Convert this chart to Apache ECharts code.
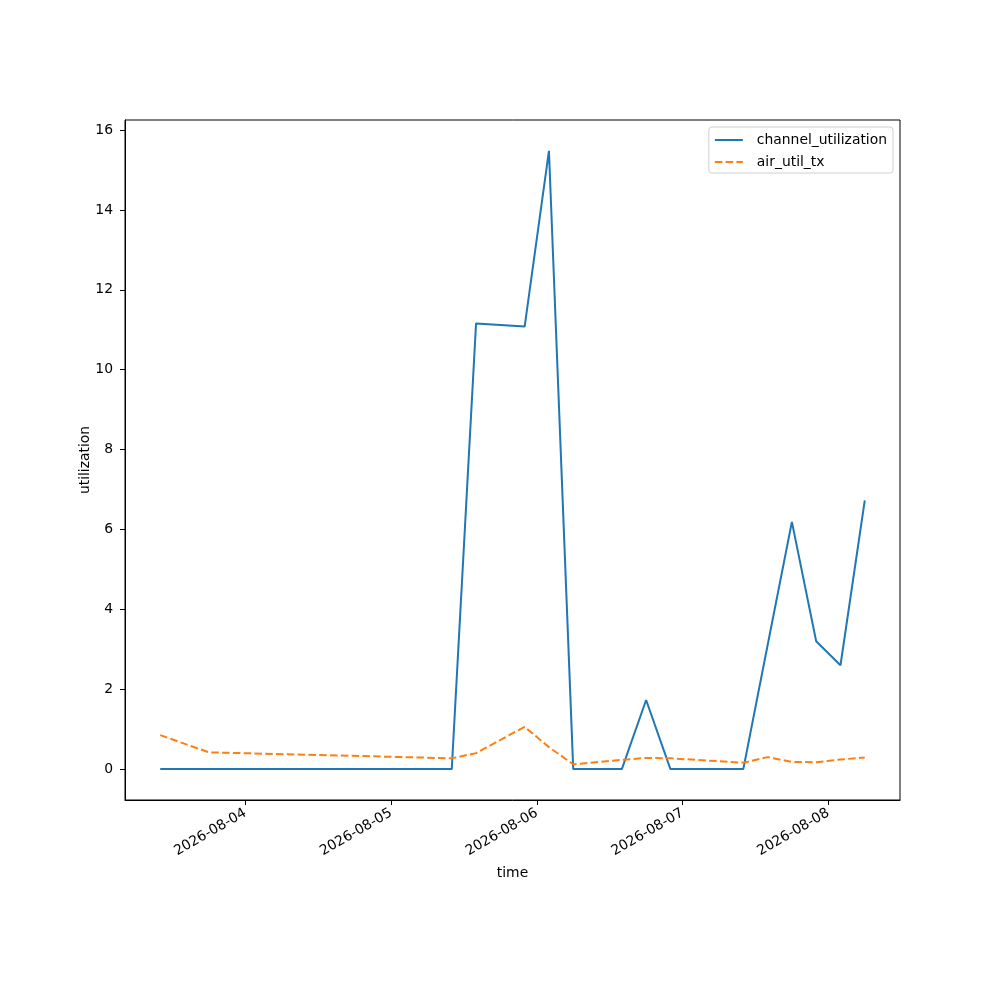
<!DOCTYPE html>
<html><head><meta charset="utf-8">
<script src="https://cdn.jsdelivr.net/npm/echarts@6/dist/echarts.min.js"></script>
<style>html,body{margin:0;padding:0;background:#fff}#c{width:1000px;height:1000px}</style>
</head><body><div id="c"></div>
<script>
const times = ['2026-08-03 10:00','2026-08-03 18:00','2026-08-05 10:00','2026-08-05 14:00','2026-08-05 22:00','2026-08-06 02:00','2026-08-06 06:00','2026-08-06 14:00','2026-08-06 18:00','2026-08-06 22:00','2026-08-07 10:00','2026-08-07 14:00','2026-08-07 18:00','2026-08-07 22:00','2026-08-08 02:00','2026-08-08 06:00'];
const channelUtilization = [0,0,0,11.16,11.08,15.48,0,0,1.73,0,0,3.1,6.19,3.20,2.60,6.73];
const airUtilTx = [0.85,0.42,0.27,0.40,1.06,0.55,0.12,0.23,0.28,0.27,0.16,0.30,0.18,0.17,0.24,0.29];
const xTickLabels = ['2026-08-04','2026-08-05','2026-08-06','2026-08-07','2026-08-08'];
const yTicks = [0,2,4,6,8,10,12,14,16];

function parseT(s){
  const [d,t] = s.split(' ');
  const [Y,M,D] = d.split('-').map(Number);
  const [h,m] = (t||'00:00').split(':').map(Number);
  return new Date(Y, M-1, D, h, m).getTime();
}
function fmt(v){
  const d = new Date(v);
  const p = n => String(n).padStart(2,'0');
  return d.getFullYear()+'-'+p(d.getMonth()+1)+'-'+p(d.getDate());
}
const xs = times.map(parseT);
const xMin0 = Math.min(...xs), xMax0 = Math.max(...xs);
const xPad = (xMax0 - xMin0) * 0.05;
const allY = channelUtilization.concat(airUtilTx);
const yMin0 = Math.min(...allY), yMax0 = Math.max(...allY);
const yPad = (yMax0 - yMin0) * 0.05;
const xTickVals = xTickLabels.map(s => parseT(s));

const font = 'DejaVu Sans';
const chart = echarts.init(document.getElementById('c'), null, {renderer:'canvas'});
chart.setOption({
  animation:false,
  backgroundColor:'#fff',
  textStyle:{fontFamily:font},
  grid:{left:125, right:100, top:120, bottom:200, show:true, borderColor:'#000', borderWidth:1, backgroundColor:'transparent'},
  legend:{
    orient:'vertical', right:107, top:127,
    backgroundColor:'#fff', borderColor:'#d0d0d0', borderWidth:1, borderRadius:3,
    padding:[6,6,4,5], itemGap:8, itemWidth:28, itemHeight:12,
    itemStyle:{opacity:0},
    textStyle:{fontFamily:font, fontSize:13.9, color:'#000', padding:[0,0,0,9]},
    data:['channel_utilization','air_util_tx']
  },
  xAxis:{
    type:'value', min:xMin0 - xPad, max:xMax0 + xPad,
    name:'time', nameLocation:'middle', nameGap:66,
    nameTextStyle:{fontFamily:font, fontSize:13.9, color:'#000'},
    axisLine:{show:true, onZero:false, lineStyle:{color:'#000', width:1}},
    axisTick:{show:true, length:5, lineStyle:{color:'#000'}, customValues:xTickVals},
    axisLabel:{show:true, rotate:30, margin:12, fontFamily:font, fontSize:13.9, color:'#000', customValues:xTickVals, formatter:v => fmt(v)},
    splitLine:{show:false}
  },
  yAxis:{
    type:'value', min:yMin0 - yPad, max:yMax0 + yPad,
    name:'utilization', nameLocation:'middle', nameGap:33, nameMoveOverlap:false,
    nameTextStyle:{fontFamily:font, fontSize:13.9, color:'#000'},
    axisLine:{show:true, onZero:false, lineStyle:{color:'#000', width:1}},
    axisTick:{show:true, length:5, lineStyle:{color:'#000'}, customValues:yTicks},
    axisLabel:{show:true, margin:12, fontFamily:font, fontSize:13.9, color:'#000', customValues:yTicks},
    splitLine:{show:false}
  },
  series:[
    {name:'channel_utilization', type:'line', showSymbol:false, symbol:'none',
     data: xs.map((x,i)=>[x, channelUtilization[i]]),
     itemStyle:{color:'#1f77b4'}, lineStyle:{color:'#1f77b4', width:2}},
    {name:'air_util_tx', type:'line', showSymbol:false, symbol:'none',
     data: xs.map((x,i)=>[x, airUtilTx[i]]),
     itemStyle:{color:'#ff7f0e'}, lineStyle:{color:'#ff7f0e', width:2, type:[7.5,3.3]}}
  ]
});
</script></body></html>
